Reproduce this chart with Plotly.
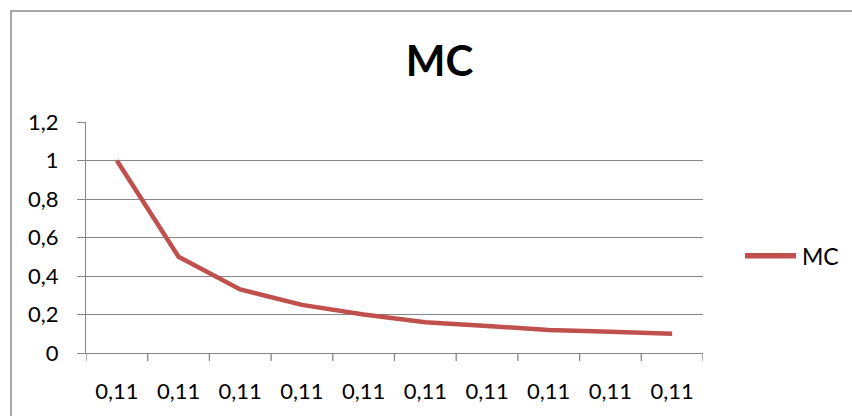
import plotly.graph_objects as go

categories = ["0,11"] * 10
series_name = "MC"
mc_values = [1.0, 0.5, 0.33, 0.25, 0.2, 0.16, 0.14, 0.12, 0.11, 0.1]
y_ticks = [0, 0.2, 0.4, 0.6, 0.8, 1.0, 1.2]
y_tick_labels = ["0", "0,2", "0,4", "0,6", "0,8", "1", "1,2"]

x_idx = list(range(len(categories)))

W, H = 852, 416
# plot area in page coords: x 86..703, y 122..355
L, T = 86, 122
R = W - 703
B = H - 355
pw, ph = W - L - R, H - T - B

def px(xpage):
    return (xpage - L) / pw

def py(ypage):
    return (H - B - ypage) / ph

FONT = "Lato, Calibri, Carlito, sans-serif"
GRID = "#868686"
RED = "#C0504D"

fig = go.Figure()
fig.add_trace(go.Scatter(
    x=x_idx, y=mc_values, mode="lines", name=series_name,
    line=dict(color=RED, width=4.5), showlegend=False,
))

fig.update_layout(
    width=W, height=H,
    margin=dict(l=L, r=R, t=T, b=B),
    paper_bgcolor="white", plot_bgcolor="white",
    font=dict(family=FONT, size=22, color="black"),
    title=dict(text="<b>MC</b>", font=dict(family=FONT, size=42, color="black"),
               x=px(439.5), xref="paper", xanchor="center",
               y=1 - 61 / H, yref="container", yanchor="middle"),
    xaxis=dict(
        range=[-0.5, len(categories) - 0.5],
        tickmode="array", tickvals=x_idx, ticktext=categories,
        showgrid=False, zeroline=False,
        showline=True, linecolor=GRID, linewidth=1.3,
        ticks="", ticklabelstandoff=18, fixedrange=True,
    ),
    yaxis=dict(
        range=[0, 1.2],
        tickmode="array", tickvals=y_ticks, ticktext=y_tick_labels,
        showgrid=True, gridcolor=GRID, gridwidth=1.3,
        zeroline=False,
        showline=True, linecolor=GRID, linewidth=1.3,
        ticks="outside", ticklen=8, tickcolor=GRID, tickwidth=1.3,
        ticklabelstandoff=14,
    ),
)

# x-axis tick marks at category boundaries
boundaries = [i - 0.5 for i in range(len(categories) + 1)]
for b in boundaries:
    fig.add_shape(type="line", xref="x", yref="paper", x0=b, x1=b, y0=0, y1=-8 / ph,
                  line=dict(color=GRID, width=1.3))

# outer chart border
fig.add_shape(type="rect", xref="paper", yref="paper",
              x0=px(11), x1=px(880), y0=py(440), y1=py(10),
              line=dict(color="#8C8C8C", width=1.5), fillcolor="rgba(0,0,0,0)", layer="below")

# legend (manual, to match the long line sample)
fig.add_shape(type="line", xref="paper", yref="paper",
              x0=px(745), x1=px(796), y0=py(257), y1=py(257),
              line=dict(color=RED, width=5.5))
fig.add_annotation(text=series_name, xref="paper", yref="paper",
                   x=px(800), y=py(257), xanchor="left", yanchor="middle",
                   showarrow=False, font=dict(family=FONT, size=23, color="black"))

fig.write_html(
    "out.html",
    config={"displayModeBar": False},
    post_script="document.body.style.margin='0';document.body.style.overflow='hidden';",
)
